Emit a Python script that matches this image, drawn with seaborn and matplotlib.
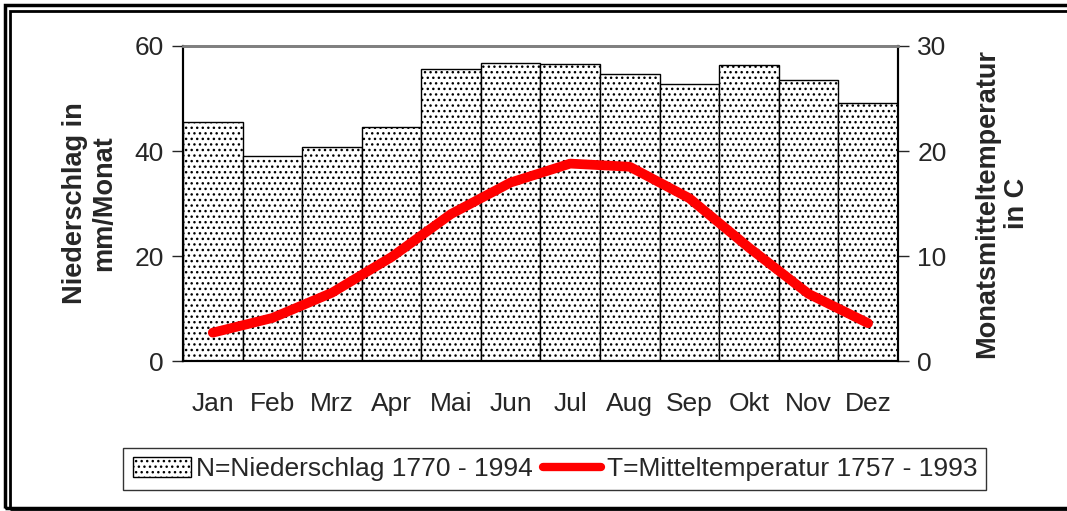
import matplotlib
matplotlib.use("Agg")
import matplotlib.pyplot as plt
import seaborn as sns
import pandas as pd
from matplotlib.patches import Rectangle, Patch
from matplotlib.lines import Line2D

months = ["Jan", "Feb", "Mrz", "Apr", "Mai", "Jun", "Jul", "Aug", "Sep", "Okt", "Nov", "Dez"]
niederschlag = [45.5, 39.0, 40.8, 44.6, 55.6, 56.8, 56.6, 54.7, 52.8, 56.4, 53.5, 49.1]
temperatur = [2.7, 4.1, 6.5, 9.9, 14.0, 17.0, 18.8, 18.5, 15.5, 10.8, 6.4, 3.6]

df = pd.DataFrame({"Monat": months, "N": niederschlag, "T": temperatur})

sns.set_style("white")
plt.rcParams["font.family"] = ["Liberation Sans", "DejaVu Sans"]
plt.rcParams["hatch.color"] = "#666666"
plt.rcParams["hatch.linewidth"] = 1.0

fig = plt.figure(figsize=(10.67, 5.11), dpi=100)
ax1 = fig.add_axes([0.1715, 0.2935, 0.670, 0.6165])

sns.barplot(data=df, x="Monat", y="N", width=1.0, color="white",
            edgecolor="black", linewidth=1, ax=ax1)
for bar in ax1.patches:
    bar.set_hatch("...")
ax1.set_xlim(-0.5, 11.5)
ax1.set_ylim(0, 60)
ax1.set_yticks([0, 20, 40, 60])
ax1.set_xlabel("")
ax1.set_ylabel("Niederschlag in\nmm/Monat", fontsize=19.5, fontweight="bold", labelpad=12)
ax1.tick_params(axis="y", direction="out", length=8, width=1, left=True, labelsize=19, pad=6)
ax1.tick_params(axis="x", length=0, labelsize=19, pad=22)

ax2 = ax1.twinx()
sns.lineplot(data=df, x="Monat", y="T", color="#ff0000", linewidth=7,
             solid_capstyle="round", sort=False, ax=ax2)
ax2.set_ylim(0, 30)
ax2.set_yticks([0, 10, 20, 30])
ax2.set_xlim(-0.5, 11.5)
ax2.set_ylabel("Monatsmitteltemperatur\nin C", fontsize=19.5, fontweight="bold", labelpad=20)
ax2.tick_params(axis="y", direction="out", length=8, width=1, right=True, labelsize=19, pad=6)

for ax in (ax1, ax2):
    for side in ("left", "right", "bottom"):
        ax.spines[side].set_color("black")
        ax.spines[side].set_linewidth(1.5)
    ax.spines["top"].set_color("#808080")
    ax.spines["top"].set_linewidth(2)

handles = [Patch(facecolor="white", edgecolor="black", hatch="...", linewidth=1),
           Line2D([0], [0], color="#ff0000", linewidth=6, solid_capstyle="round")]
labels = ["N=Niederschlag 1770 - 1994", "T=Mitteltemperatur 1757 - 1993"]
leg = fig.legend(handles, labels, loc="center", bbox_to_anchor=(0.52, 0.082), ncol=2,
                 fontsize=19, frameon=True, fancybox=False, edgecolor="black",
                 handlelength=2.2, handletextpad=0.2, columnspacing=0.4,
                 borderpad=0.35, handleheight=0.8)
leg.get_frame().set_linewidth(1)

# double frame around the chart
fig.patches.append(Rectangle((5 / 1067, 3 / 511), 1.0, 1 - 8 / 511, transform=fig.transFigure,
                             fill=False, edgecolor="black", linewidth=2.5))
fig.patches.append(Rectangle((10 / 1067, 2 / 511), 1.0, 1 - 13 / 511, transform=fig.transFigure,
                             fill=False, edgecolor="black", linewidth=2))

fig.savefig("out.png", dpi=100)
